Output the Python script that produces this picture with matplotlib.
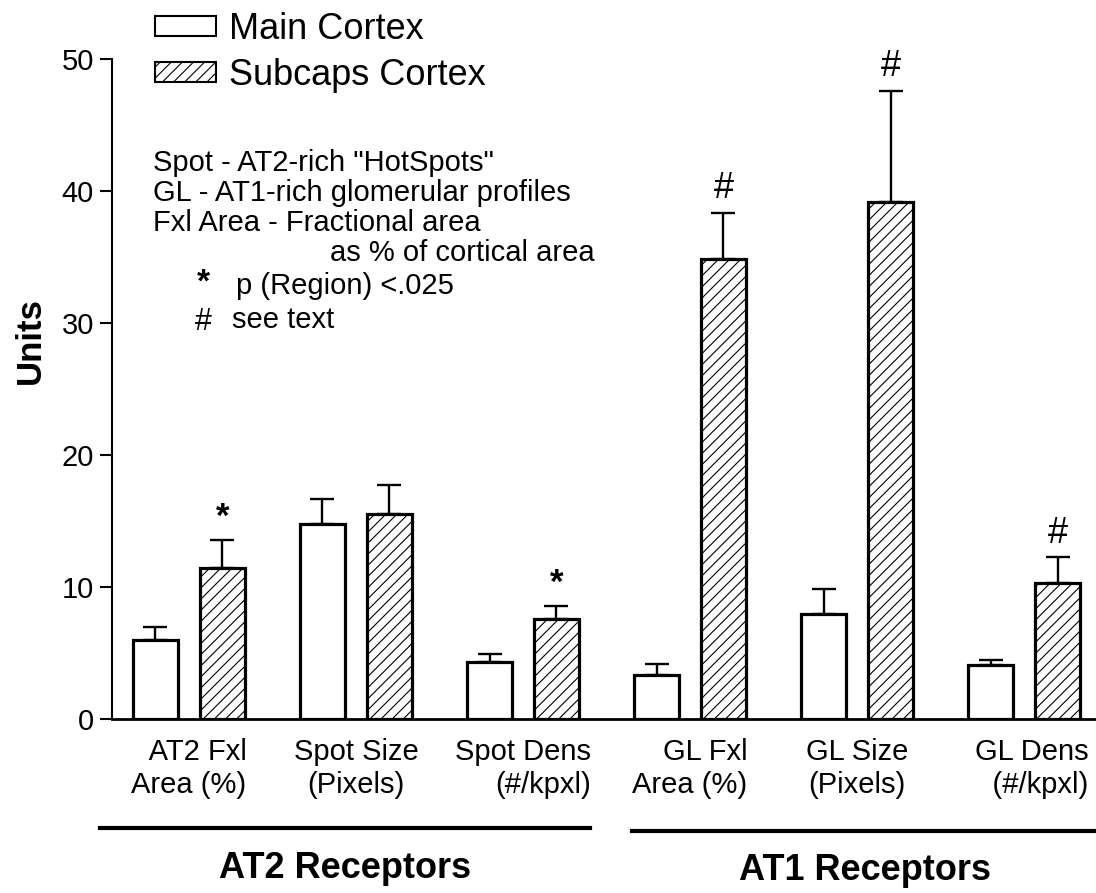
import numpy as np
import matplotlib
matplotlib.use("Agg")
import matplotlib.pyplot as plt
from matplotlib.lines import Line2D

plt.rcParams['font.family'] = ['Liberation Sans', 'DejaVu Sans']
plt.rcParams['hatch.linewidth'] = 0.8

# data
categories = ["  AT2 Fxl\nArea (%)", "Spot Size\n(Pixels)", "Spot Dens\n(#/kpxl)",
              "GL Fxl\nArea (%)", "GL Size\n(Pixels)", "GL Dens\n    (#/kpxl)"]
label_align = ['right', 'center', 'right', 'right', 'center', 'right']
main_vals = [6.0, 14.75, 4.3, 3.3, 7.95, 4.1]
main_err = [1.0, 1.95, 0.6, 0.85, 1.9, 0.4]
sub_vals = [11.45, 15.55, 7.55, 34.85, 39.15, 10.33]
sub_err = [2.1, 2.2, 1.0, 3.5, 8.45, 1.92]
sub_marks = ['*', '', '*', '#', '#', '#']
groups = ["AT2 Receptors", "AT1 Receptors"]

fig = plt.figure(figsize=(10.96, 8.93), dpi=100)
ax = fig.add_axes([112/1096, 1-719/893, (1096-112)/1096, (719-59)/893])

x = np.arange(len(categories))
w = 0.27
off = 0.2

ax.bar(x - off, main_vals, w, color='white', edgecolor='black', linewidth=2.3, zorder=2)
ax.bar(x + off, sub_vals, w, color='white', edgecolor='black', linewidth=2.3,
       hatch='///', zorder=2)

zeros = np.zeros(len(x))
ax.errorbar(x - off, main_vals, yerr=[zeros, main_err], fmt='none', ecolor='black',
            elinewidth=1.7, capsize=8.5, capthick=1.7, zorder=3, clip_on=False)
ax.errorbar(x + off, sub_vals, yerr=[zeros, sub_err], fmt='none', ecolor='black',
            elinewidth=1.7, capsize=8.5, capthick=1.7, zorder=3, clip_on=False)

for xi, v, e, m in zip(x, sub_vals, sub_err, sub_marks):
    if m == '*':
        ax.text(xi + off, v + e + 0.5, m, ha='center', va='bottom', fontsize=25,
                fontweight='bold')
    elif m == '#':
        ax.text(xi + off, v + e + 0.5, m, ha='center', va='bottom', fontsize=26)

ax.set_xlim(-0.46, 5.43)
ax.set_ylim(0, 50)
ax.set_yticks(np.arange(0, 51, 10))
ax.set_xticks(x)
ax.set_xticklabels(categories, fontsize=21)
for lbl, a in zip(ax.get_xticklabels(), label_align):
    lbl.set_multialignment(a)
ax.tick_params(axis='x', length=0, pad=14)
ax.tick_params(axis='y', labelsize=21, length=9, width=1.5, direction='out', pad=4)
for s in ['top', 'right']:
    ax.spines[s].set_visible(False)
ax.spines['left'].set_linewidth(1.5)
ax.spines['bottom'].set_linewidth(2)
ax.set_ylabel("Units", fontsize=25, fontweight='bold')
ax.yaxis.set_label_coords(-0.066, 0.574)

# legend
leg = ax.legend(["Main Cortex", "Subcaps Cortex"], loc='upper left',
                bbox_to_anchor=(155/1096, 1-12/893), bbox_transform=fig.transFigure,
                frameon=False, fontsize=26, handlelength=1.7, handleheight=0.5,
                handletextpad=0.35, labelspacing=0.3, borderpad=0, borderaxespad=0)
for h in leg.legend_handles:
    h.set_linewidth(1.5)

# notes
notes = ['Spot - AT2-rich "HotSpots"', 'GL - AT1-rich glomerular profiles',
         'Fxl Area - Fractional area']
for i, t in enumerate(notes):
    fig.text(153/1096, 1-(163 + 30*i)/893, t, fontsize=21, va='center')
fig.text(330/1096, 1-253/893, 'as % of cortical area', fontsize=21, va='center')
fig.text(203/1096, 1-283/893, '*', fontsize=24, fontweight='bold', va='center', ha='center')
fig.text(236/1096, 1-286/893, 'p (Region) <.025', fontsize=21, va='center')
fig.text(203/1096, 1-322/893, '#', fontsize=22, va='center', ha='center')
fig.text(232/1096, 1-320/893, 'see text', fontsize=21, va='center')

# group brackets
fig.add_artist(Line2D([100/1096, 590/1096], [1-828/893, 1-828/893], color='black', lw=3))
fig.add_artist(Line2D([632/1096, 1096/1096], [1-831/893, 1-831/893], color='black', lw=3))
fig.text(345/1096, 1-868/893, groups[0], fontsize=26, fontweight='bold',
         ha='center', va='center')
fig.text(865/1096, 1-870/893, groups[1], fontsize=26, fontweight='bold',
         ha='center', va='center')

fig.savefig("out.png", dpi=100)
